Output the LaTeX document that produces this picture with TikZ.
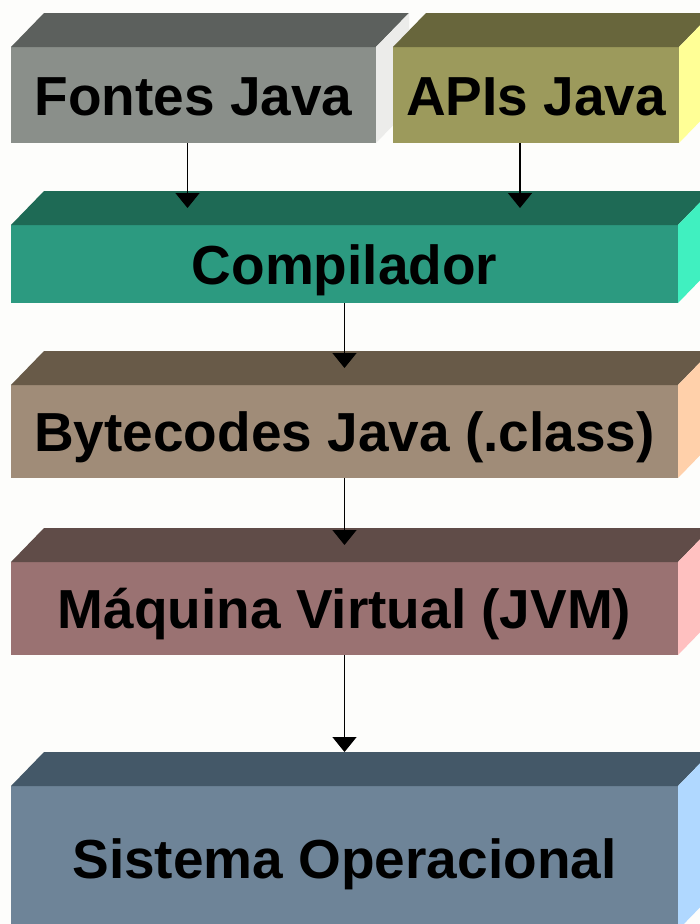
\documentclass[tikz,border=0pt]{standalone}
\usepackage{fontspec}
\setmainfont{Liberation Sans}
\usetikzlibrary{arrows.meta, calc}
\definecolor{paper}{RGB}{253, 253, 251}
\definecolor{fontesfront}{RGB}{138, 143, 138}
\definecolor{fontestop}{RGB}{92, 96, 93}
\definecolor{fontesside}{RGB}{236, 236, 234}
\definecolor{apisfront}{RGB}{156, 154, 92}
\definecolor{apistop}{RGB}{104, 102, 60}
\definecolor{apisside}{RGB}{255, 255, 150}
\definecolor{compfront}{RGB}{44, 154, 128}
\definecolor{comptop}{RGB}{30, 106, 85}
\definecolor{compside}{RGB}{64, 240, 192}
\definecolor{bytefront}{RGB}{160, 140, 120}
\definecolor{bytetop}{RGB}{104, 90, 72}
\definecolor{byteside}{RGB}{255, 208, 170}
\definecolor{jvmfront}{RGB}{154, 114, 114}
\definecolor{jvmtop}{RGB}{96, 76, 72}
\definecolor{jvmside}{RGB}{255, 192, 192}
\definecolor{sofront}{RGB}{110, 132, 152}
\definecolor{sotop}{RGB}{68, 88, 104}
\definecolor{soside}{RGB}{176, 216, 255}
\newcommand{\blockfaces}[3]{%
  \fill[#2] (#1.north west) -- ++(33,-34) -- ($(#1.north east)+(33,-34)$) -- (#1.north east) -- cycle;
  \fill[#3] (#1.north east) -- ++(33,-34) -- ($(#1.south east)+(33,-34)$) -- (#1.south east) -- cycle;
}

\begin{document}
\begin{tikzpicture}[x=1pt, y=-1pt,
    face/.style={inner sep=0pt, outer sep=0pt},
    blocktext/.style={inner sep=0pt, text height=40pt, text depth=0pt, font=\fontsize{55}{60}\selectfont\bfseries},
    flow/.style={-{Triangle[width=24pt, length=15pt]}, line width=1.4pt, black}]
  % Page and background
  \useasboundingbox (0,0) rectangle (700,924);
  \clip (0,0) rectangle (700,924);
  \fill[paper] (0,0) rectangle (700,924);

  % Sources and APIs
  \node[face, fill=fontesfront, minimum width=365, minimum height=96] (fontes) at (193.5,95) {};
  \blockfaces{fontes}{fontestop}{fontesside}
  \node[face, fill=apisfront, minimum width=286, minimum height=96] (apis) at (536,95) {};
  \blockfaces{apis}{apistop}{apisside}

  % Compiler
  \node[face, fill=compfront, minimum width=667, minimum height=78] (comp) at (344.5,264) {};
  \blockfaces{comp}{comptop}{compside}

  % Bytecodes
  \node[face, fill=bytefront, minimum width=667, minimum height=93] (bytes) at (344.5,431.5) {};
  \blockfaces{bytes}{bytetop}{byteside}

  % Virtual machine
  \node[face, fill=jvmfront, minimum width=667, minimum height=93] (jvm) at (344.5,608.5) {};
  \blockfaces{jvm}{jvmtop}{jvmside}

  % Operating system
  \node[face, fill=sofront, minimum width=667, minimum height=144] (so) at (344.5,858) {};
  \blockfaces{so}{sotop}{soside}

  % Labels
  \foreach \blk/\txt in {fontes/Fontes Java, apis/APIs Java, comp/Compilador,
      bytes/Bytecodes Java (.class), jvm/Máquina Virtual (JVM), so/Sistema Operacional}
    \node[blocktext] (\blk label) at (\blk) {\txt};

  % Flow arrows
  \draw[flow] ([xshift=-6pt]fontes.south) -- ([xshift=-6pt, yshift=17pt]fontes.south |- comp.north);
  \draw[flow] ([xshift=-16pt]apis.south) -- ([xshift=-16pt, yshift=17pt]apis.south |- comp.north);
  \draw[flow] (comp.south) -- ([yshift=17pt]bytes.north);
  \draw[flow] (bytes.south) -- ([yshift=17pt]jvm.north);
  \draw[flow] (jvm.south) -- ([yshift=34pt]so.north);
\end{tikzpicture}
\end{document}
